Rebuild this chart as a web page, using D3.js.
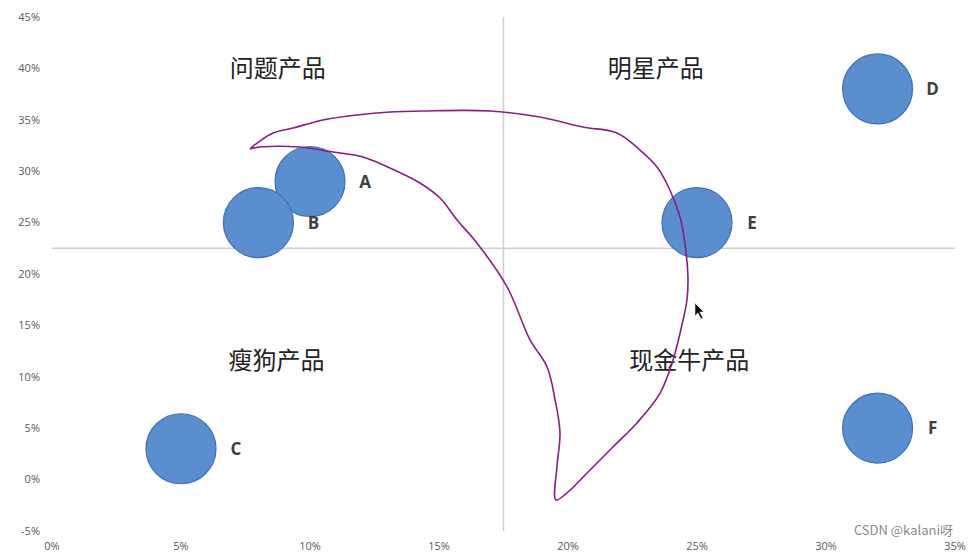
<!DOCTYPE html>
<html lang="zh">
<head>
<meta charset="utf-8">
<title>波士顿矩阵</title>
<script src="https://d3js.org/d3.v7.min.js"></script>
<style>
  body { margin: 0; background: #fff; }
  .tick-label { font-family: "Open Sans", Lato, sans-serif; font-size: 11px; fill: #595959; }
  .quad { font-family: "Noto Sans CJK SC", sans-serif; font-size: 24px; fill: #222; }
  .bubble-label { font-family: "Open Sans", sans-serif; font-size: 17px; font-weight: bold; fill: #404040; }
  .watermark { font-family: "Noto Sans CJK SC", sans-serif; font-size: 13px; fill: #8a8a8a; }
</style>
</head>
<body>
<script>
// bubble data (x = 市场占有率, y = 增长率, in %)
var names = ["A", "B", "C", "D", "E", "F"];
var xVals = [10, 8, 5, 32, 25, 32];
var yVals = [29, 25, 3, 38, 25, 5];
var sizes = [10, 10, 10, 10, 10, 10];

var xTicks = [0, 5, 10, 15, 20, 25, 30, 35];
var yTicks = [-5, 0, 5, 10, 15, 20, 25, 30, 35, 40, 45];

// where the quadrant dividers cross
var xSplit = 17.5;
var ySplit = 22.5;

var quadNames = ["问题产品", "明星产品", "瘦狗产品", "现金牛产品"];
var quadX = [8.75, 23.4, 8.7, 24.7];
var quadY = [40, 40, 11.6, 11.6];

// hand drawn annotation loop (in data units)
var strokeX = [7.67, 7.95, 8.57, 9.34, 10.5, 11.82, 13.1, 14.38, 16.98, 18.91, 20.58, 21.9, 22.79, 23.45, 23.95, 24.34, 24.53, 24.65, 24.61, 24.46, 24.07, 23.57, 22.67, 21.74, 20.74, 19.96, 19.53,
               19.57, 19.69, 19.5, 19.19, 18.53, 17.64, 16.47, 15.7, 15.04, 14.26, 13.1, 12.05, 10.89, 9.61, 8.06, 7.67];
var strokeY = [32.16, 32.74, 33.72, 34.2, 34.98, 35.47, 35.76, 35.86, 35.86, 35.27, 34.3, 33.72, 32.06, 30.41, 28.17, 25.54, 23.02, 19.71, 17.47, 15.53, 11.63, 8.42, 5.51, 3.17, 0.64, -1.3, -1.98,
               1.23, 4.53, 7.74, 10.95, 13.58, 18.74, 23.02, 25.25, 27.39, 28.85, 30.31, 31.38, 31.87, 32.35, 32.35, 32.16];

var w = 970, h = 553;
var svg = d3.select("body").append("svg").attr("width", w).attr("height", h);

var x = d3.scaleLinear().domain([0, 35]).range([52, 955]);
var y = d3.scaleLinear().domain([-5, 45]).range([531, 17]);
var r = d3.scaleSqrt().domain([0, 10]).range([0, 35]);

// tick labels
svg.selectAll(".ytl").data(yTicks).enter().append("text")
   .attr("class", "tick-label")
   .attr("x", 40).attr("y", function(d) { return y(d); })
   .attr("dy", "0.35em").attr("text-anchor", "end")
   .text(function(d) { return d + "%"; });

svg.selectAll(".xtl").data(xTicks).enter().append("text")
   .attr("class", "tick-label")
   .attr("x", function(d) { return x(d); }).attr("y", 550)
   .attr("text-anchor", "middle")
   .text(function(d) { return d + "%"; });

// divider lines
svg.append("line")
   .attr("x1", x(xSplit)).attr("x2", x(xSplit))
   .attr("y1", y(45)).attr("y2", y(-5))
   .attr("stroke", "#cfcfcf").attr("stroke-width", 1.5);
svg.append("line")
   .attr("x1", x(0)).attr("x2", x(35))
   .attr("y1", y(ySplit)).attr("y2", y(ySplit))
   .attr("stroke", "#cfcfcf").attr("stroke-width", 1.5);

// quadrant names
svg.selectAll(".quad").data(quadNames).enter().append("text")
   .attr("class", "quad")
   .attr("x", function(d, i) { return x(quadX[i]); })
   .attr("y", function(d, i) { return y(quadY[i]); })
   .attr("dy", "0.36em").attr("text-anchor", "middle")
   .text(function(d) { return d; });

// bubbles
var bubbles = names.map(function(n, i) {
    return { name: n, x: xVals[i], y: yVals[i], s: sizes[i] };
});

svg.selectAll("circle").data(bubbles).enter().append("circle")
   .attr("cx", function(d) { return x(d.x); })
   .attr("cy", function(d) { return y(d.y); })
   .attr("r", function(d) { return r(d.s); })
   .attr("fill", "#5b8ecf")
   .attr("stroke", "#4171b4").attr("stroke-width", 1.2);

svg.selectAll(".bubble-label").data(bubbles).enter().append("text")
   .attr("class", "bubble-label")
   .attr("x", function(d) { return x(d.x) + r(d.s) + 20; })
   .attr("y", function(d) { return y(d.y); })
   .attr("dy", "0.36em").attr("text-anchor", "middle")
   .text(function(d) { return d.name; });

// purple pen stroke
var pts = strokeX.map(function(v, i) { return [v, strokeY[i]]; });
var line = d3.line()
   .x(function(d) { return x(d[0]); })
   .y(function(d) { return y(d[1]); })
   .curve(d3.curveCatmullRom.alpha(0.5));
svg.append("path").datum(pts)
   .attr("d", line)
   .attr("fill", "none")
   .attr("stroke", "#86207f").attr("stroke-width", 1.6);

// mouse pointer
svg.append("path")
   .attr("transform", "translate(" + x(24.92) + "," + y(17.18) + ")")
   .attr("d", "M0,0 L0,13 L3,10 L6,16 L8,15 L5,9 L9,9 Z")
   .attr("fill", "#111").attr("stroke", "#fff").attr("stroke-width", 0.6);

// watermark
svg.append("text").attr("class", "watermark")
   .attr("x", 953).attr("y", 535).attr("text-anchor", "end")
   .text("CSDN @kalani呀");
</script>
</body>
</html>
